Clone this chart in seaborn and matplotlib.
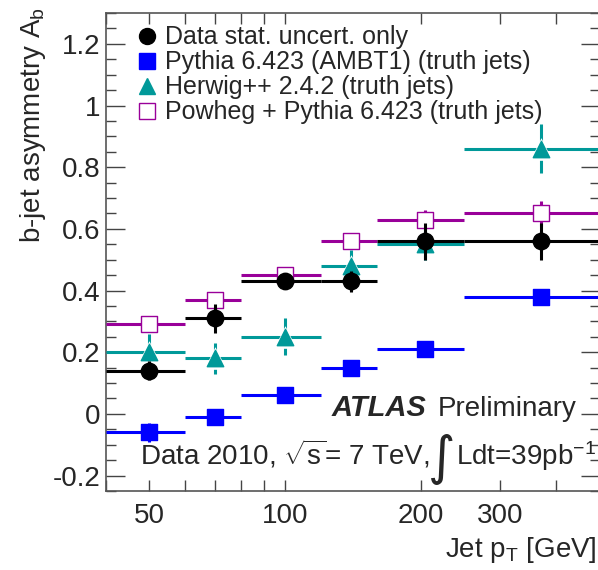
import numpy as np
import pandas as pd
import matplotlib
matplotlib.use("Agg")
import matplotlib.pyplot as plt
from matplotlib.lines import Line2D
from matplotlib.ticker import FixedLocator, FixedFormatter
import seaborn as sns

# ---- data -------------------------------------------------------------
bin_lo = [40, 60, 80, 120, 160, 250]
bin_hi = [60, 80, 120, 160, 250, 500]
pt_center = [50, 70, 100, 140, 205, 370]

data_val = [0.14, 0.31, 0.43, 0.43, 0.56, 0.56]
data_err = [0.03, 0.047, 0.02, 0.035, 0.06, 0.06]

pythia_val = [-0.06, -0.01, 0.06, 0.15, 0.21, 0.38]
pythia_err = [0.03, 0.02, 0.02, 0.02, 0.02, 0.02]

herwig_val = [0.20, 0.18, 0.25, 0.48, 0.55, 0.86]
herwig_err = [0.06, 0.05, 0.06, 0.05, 0.05, 0.08]

powheg_val = [0.29, 0.37, 0.45, 0.56, 0.63, 0.65]
powheg_err = [0.01, 0.015, 0.01, 0.015, 0.03, 0.04]

labels = ["Data stat. uncert. only",
          "Pythia 6.423 (AMBT1) (truth jets)",
          "Herwig++ 2.4.2 (truth jets)",
          "Powheg + Pythia 6.423 (truth jets)"]

x_tick_vals = [50, 100, 200, 300]
x_tick_labels = ["50", "100", "200", "300"]
y_tick_vals = [-0.2, 0.0, 0.2, 0.4, 0.6, 0.8, 1.0, 1.2]
y_tick_labels = ["-0.2", "0", "0.2", "0.4", "0.6", "0.8", "1", "1.2"]

# ---- style --------------------------------------------------------------
sns.set_theme(style="ticks")
plt.rcParams["font.family"] = ["Liberation Sans", "DejaVu Sans"]
plt.rcParams["mathtext.fontset"] = "custom"
plt.rcParams["mathtext.rm"] = "Liberation Sans"
plt.rcParams["mathtext.it"] = "Liberation Sans:italic"
plt.rcParams["mathtext.bf"] = "Liberation Sans:bold"

FS = 20
fig = plt.figure(figsize=(5.98, 5.70), dpi=100)
ax = fig.add_axes([0.177, 0.1386, 0.826, 0.8386])

df = pd.DataFrame({
    "pt": pt_center * 4,
    "lo": bin_lo * 4,
    "hi": bin_hi * 4,
    "val": data_val + pythia_val + herwig_val + powheg_val,
    "err": data_err + pythia_err + herwig_err + powheg_err,
    "series": sum([[l] * len(pt_center) for l in labels], []),
})

styles = {
    labels[0]: dict(color="black", marker="o", face="black", size=140, z=10),
    labels[1]: dict(color="#0000ff", marker="s", face="#0000ff", size=135, z=8),
    labels[2]: dict(color="#009999", marker="^", face="#009999", size=140, z=4),
    labels[3]: dict(color="#990099", marker="s", face="white", size=145, z=6),
}

for name, st in styles.items():
    d = df[df["series"] == name]
    xerr = np.vstack([d["pt"] - d["lo"], d["hi"] - d["pt"]])
    ax.errorbar(d["pt"], d["val"], xerr=xerr, yerr=d["err"], fmt="none",
                ecolor=st["color"], elinewidth=2.2, capsize=0, zorder=st["z"])
    if st["marker"] == "^":
        # white halo leaves a small gap between the error lines and the marker
        ax.scatter(d["pt"], d["val"], s=st["size"] * 1.9, marker="^",
                   color="white", linewidths=0, zorder=st["z"] + 0.5)
    sns.scatterplot(data=d, x="pt", y="val", ax=ax, marker=st["marker"],
                    s=st["size"], color=st["face"],
                    edgecolor=st["color"] if st["face"] == "white" else st["face"],
                    linewidth=1.0, zorder=st["z"] + 1, legend=False)

ax.set_xscale("log")
ax.set_xlim(40, 500)
ax.set_ylim(-0.25, 1.3)

ax.xaxis.set_major_locator(FixedLocator(x_tick_vals))
ax.xaxis.set_major_formatter(FixedFormatter(x_tick_labels))
ax.xaxis.set_minor_locator(FixedLocator([40, 60, 70, 80, 90, 400, 500]))
ax.xaxis.set_minor_formatter(FixedFormatter([""] * 7))
ax.yaxis.set_major_locator(FixedLocator(y_tick_vals))
ax.yaxis.set_major_formatter(FixedFormatter(y_tick_labels))
ax.yaxis.set_minor_locator(FixedLocator(np.arange(-0.25, 1.301, 0.05)))

ax.tick_params(which="both", direction="in", top=True, right=True,
               color="#444444", width=1.0, labelsize=FS)
ax.tick_params(axis="y", which="both", pad=4)
ax.tick_params(axis="x", which="both", pad=9)
ax.tick_params(axis="y", which="major", length=14)
ax.tick_params(axis="y", which="minor", length=7)
ax.tick_params(axis="x", which="both", length=8)
for s in ax.spines.values():
    s.set_color("#555555")
    s.set_linewidth(1.2)

ax.set_xlabel("")
ax.set_ylabel("")
fig.text(0.055, 0.988, r"b-jet asymmetry A$_{\mathrm{b}}$", rotation=90,
         ha="center", va="top", fontsize=FS)
fig.text(0.998, 0.022, r"Jet p$_{\mathrm{T}}$ [GeV]", ha="right",
         va="baseline", fontsize=FS)

handles = [Line2D([], [], linestyle="none", marker=styles[l]["marker"],
                  markersize=11.5,
                  markerfacecolor=styles[l]["face"],
                  markeredgecolor=styles[l]["color"] if styles[l]["face"] == "white" else styles[l]["face"],
                  markeredgewidth=1.0) for l in labels]
ax.legend(handles, labels, loc="upper left", bbox_to_anchor=(0.037, 0.995),
          frameon=False, fontsize=18, handletextpad=0.25, labelspacing=0.04,
          borderaxespad=0.0, handlelength=1.0)

# experiment labels
ax.text(332 / 598, 1 - 416 / 570, "ATLAS", transform=fig.transFigure,
        fontsize=21, fontweight="bold", fontstyle="italic", va="baseline")
ax.text(438 / 598, 1 - 416 / 570, "Preliminary", transform=fig.transFigure,
        fontsize=FS, va="baseline")
ax.text(140 / 598, 1 - 465 / 570, r"Data 2010, $\sqrt{\mathrm{s}}$= 7 TeV,",
        transform=fig.transFigure, fontsize=FS, va="baseline")
ax.text(428 / 598, 1 - 474 / 570, "\u222b", transform=fig.transFigure,
        fontsize=38, va="baseline", family=["DejaVu Sans"])
ax.text(456 / 598, 1 - 465 / 570, r"Ldt=39pb$^{-1}$",
        transform=fig.transFigure, fontsize=FS, va="baseline")

fig.savefig("out.png", dpi=100)
